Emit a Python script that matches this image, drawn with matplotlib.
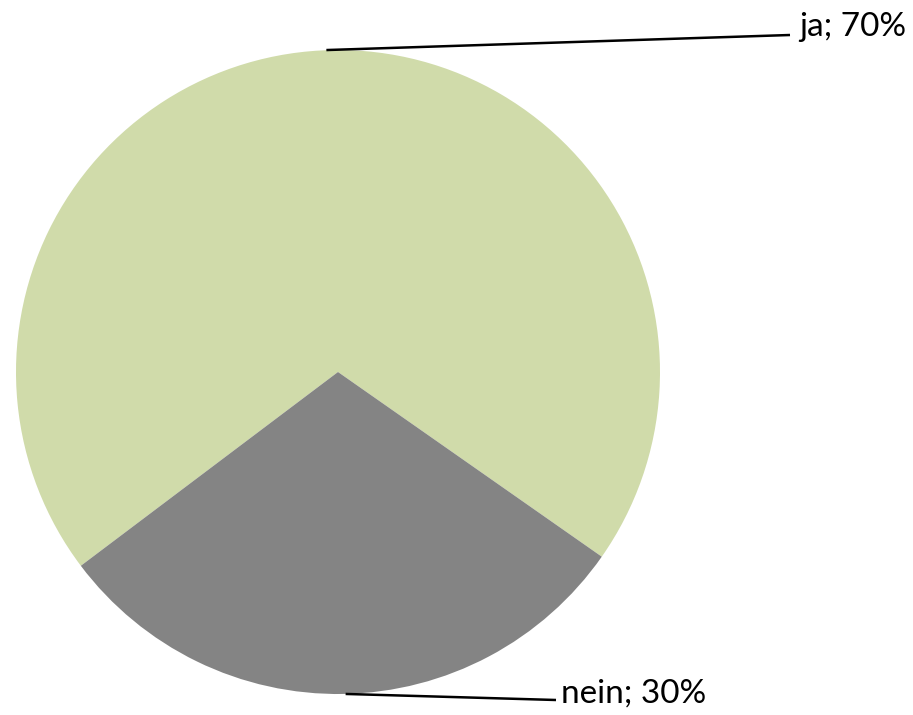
import numpy as np
import matplotlib
matplotlib.use("Agg")
import matplotlib.pyplot as plt

labels = ["ja", "nein"]
shares = [70, 30]
colors = ["#D0DBAA", "#848484"]

W, H = 913, 715
fig = plt.figure(figsize=(W / 100, H / 100), dpi=100)
ax = fig.add_axes([0, 0, 1, 1])

cx, cy, r = 338, H - 372, 322
wedges, _ = ax.pie(shares, colors=colors, startangle=-35, counterclock=True,
                   center=(cx, cy), radius=r, frame=True,
                   wedgeprops=dict(linewidth=0))
ax.set_xlim(0, W)
ax.set_ylim(0, H)
ax.set_aspect("equal")
ax.axis("off")

# label positions (text anchor), leader line ends, in pixels
text_pos = [(799, H - 27), (561, H - 694)]
line_end = [(790, H - 35), (556, H - 700)]
line_start_dx = [-6, 2]
for w, lab, val, tp, le, dx in zip(wedges, labels, shares, text_pos, line_end, line_start_dx):
    ang = np.deg2rad((w.theta1 + w.theta2) / 2)
    x0 = cx + r * np.cos(ang) + dx
    y0 = cy + r * np.sin(ang)
    ax.plot([x0, le[0]], [y0, le[1]], color="black", lw=1.8,
            solid_capstyle="butt")
    ax.text(tp[0], tp[1], f"{lab}; {val}%", fontsize=24, family="Lato",
            ha="left", va="center")

fig.savefig("out.png", dpi=100)
